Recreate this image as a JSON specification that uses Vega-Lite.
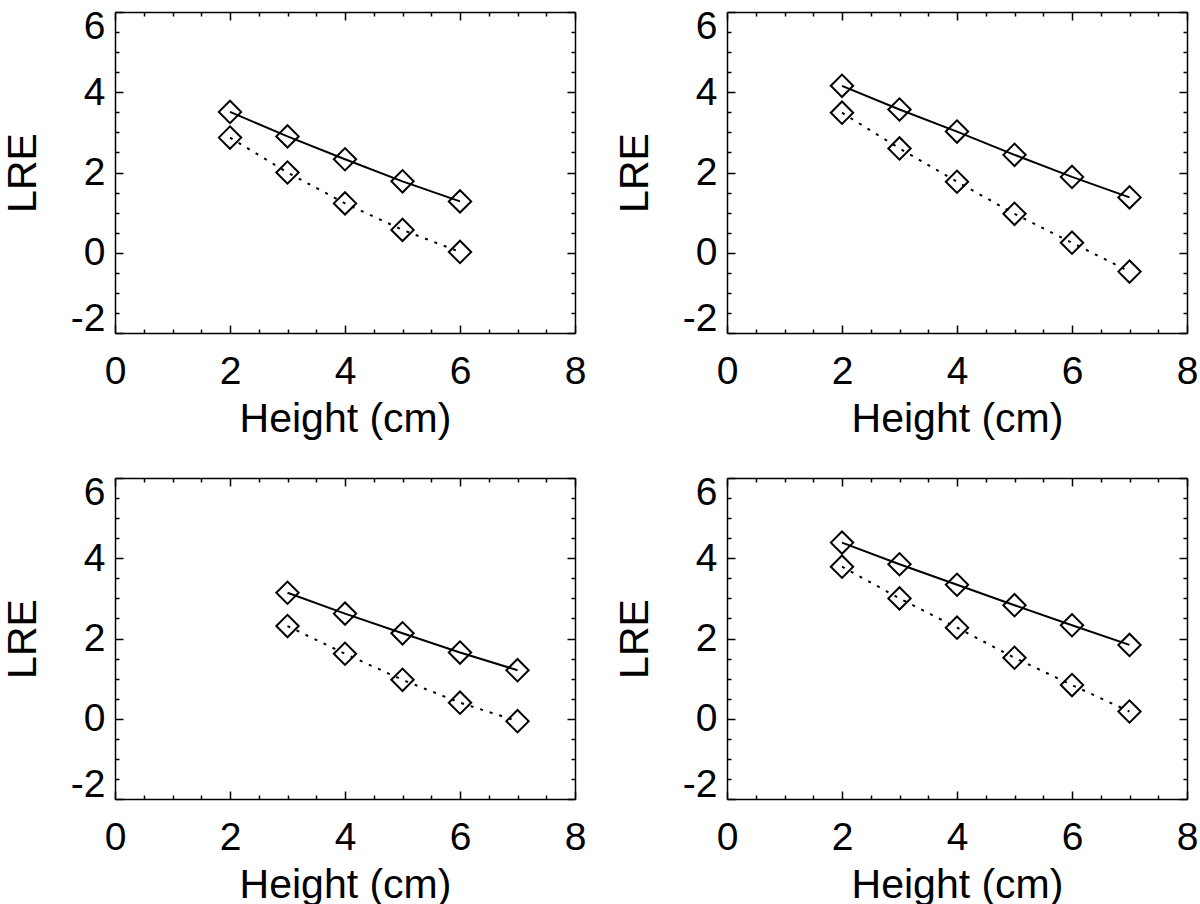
{
  "$schema": "https://vega.github.io/schema/vega-lite/v6.json",
  "padding": {"left": 2, "top": 7, "right": 0, "bottom": 0},
  "background": "white",
  "datasets": {
    "p1": [
      {"h": 2, "lre": 3.51, "s": "solid"}, {"h": 3, "lre": 2.90, "s": "solid"}, {"h": 4, "lre": 2.33, "s": "solid"}, {"h": 5, "lre": 1.78, "s": "solid"}, {"h": 6, "lre": 1.28, "s": "solid"},
      {"h": 2, "lre": 2.87, "s": "dotted"}, {"h": 3, "lre": 2.00, "s": "dotted"}, {"h": 4, "lre": 1.23, "s": "dotted"}, {"h": 5, "lre": 0.57, "s": "dotted"}, {"h": 6, "lre": 0.02, "s": "dotted"}
    ],
    "p2": [
      {"h": 2, "lre": 4.16, "s": "solid"}, {"h": 3, "lre": 3.57, "s": "solid"}, {"h": 4, "lre": 3.02, "s": "solid"}, {"h": 5, "lre": 2.44, "s": "solid"}, {"h": 6, "lre": 1.89, "s": "solid"}, {"h": 7, "lre": 1.38, "s": "solid"},
      {"h": 2, "lre": 3.49, "s": "dotted"}, {"h": 3, "lre": 2.60, "s": "dotted"}, {"h": 4, "lre": 1.77, "s": "dotted"}, {"h": 5, "lre": 0.97, "s": "dotted"}, {"h": 6, "lre": 0.25, "s": "dotted"}, {"h": 7, "lre": -0.47, "s": "dotted"}
    ],
    "p3": [
      {"h": 3, "lre": 3.14, "s": "solid"}, {"h": 4, "lre": 2.62, "s": "solid"}, {"h": 5, "lre": 2.13, "s": "solid"}, {"h": 6, "lre": 1.65, "s": "solid"}, {"h": 7, "lre": 1.21, "s": "solid"},
      {"h": 3, "lre": 2.31, "s": "dotted"}, {"h": 4, "lre": 1.62, "s": "dotted"}, {"h": 5, "lre": 0.97, "s": "dotted"}, {"h": 6, "lre": 0.40, "s": "dotted"}, {"h": 7, "lre": -0.06, "s": "dotted"}
    ],
    "p4": [
      {"h": 2, "lre": 4.39, "s": "solid"}, {"h": 3, "lre": 3.85, "s": "solid"}, {"h": 4, "lre": 3.34, "s": "solid"}, {"h": 5, "lre": 2.83, "s": "solid"}, {"h": 6, "lre": 2.33, "s": "solid"}, {"h": 7, "lre": 1.84, "s": "solid"},
      {"h": 2, "lre": 3.79, "s": "dotted"}, {"h": 3, "lre": 3.00, "s": "dotted"}, {"h": 4, "lre": 2.27, "s": "dotted"}, {"h": 5, "lre": 1.52, "s": "dotted"}, {"h": 6, "lre": 0.84, "s": "dotted"}, {"h": 7, "lre": 0.18, "s": "dotted"}
    ]
  },
  "columns": 2,
  "spacing": {"row": 34, "column": 28},
  "concat": [
    {
      "width": 460, "height": 321,
      "data": {"name": "p1"},
      "layer": [
        {"transform": [{"filter": "datum.s === 'solid'"}], "mark": {"type": "line", "color": "black", "strokeWidth": 2},
         "encoding": {
          "x": {"field": "h", "type": "quantitative", "scale": {"domain": [0, 8], "nice": false, "zero": false}, "axis": {"orient": "bottom", "values": [0,0.5,1,1.5,2,2.5,3,3.5,4,4.5,5,5.5,6,6.5,7,7.5,8], "labelExpr": "datum.value % 2 === 0 ? '' + datum.value : ''", "tickSize": {"condition": {"test": "datum.value % 2 === 0", "value": -8}, "value": -4}, "labelPadding": 27, "labelFlush": false, "title": "Height (cm)", "titlePadding": 4}},
          "y": {"field": "lre", "type": "quantitative", "scale": {"domain": [-2, 6], "nice": false, "zero": false}, "axis": {"orient": "left", "values": [-2,-1.5,-1,-0.5,0,0.5,1,1.5,2,2.5,3,3.5,4,4.5,5,5.5,6], "labelExpr": "datum.value % 2 === 0 ? '' + datum.value : ''", "tickSize": {"condition": {"test": "datum.value % 2 === 0", "value": -8}, "value": -4}, "labelPadding": 18, "labelFlush": true, "labelFlushOffset": 5, "title": "LRE", "titlePadding": 26}}
         }},
        {"transform": [{"filter": "datum.s === 'dotted'"}], "mark": {"type": "line", "color": "black", "strokeWidth": 2, "strokeDash": [3, 7]},
         "encoding": {
          "x": {"field": "h", "type": "quantitative", "scale": {"domain": [0, 8], "nice": false, "zero": false}, "axis": {"orient": "top", "values": [0,0.5,1,1.5,2,2.5,3,3.5,4,4.5,5,5.5,6,6.5,7,7.5,8], "labels": false, "tickSize": {"condition": {"test": "datum.value % 2 === 0", "value": -8}, "value": -4}, "title": null}},
          "y": {"field": "lre", "type": "quantitative", "scale": {"domain": [-2, 6], "nice": false, "zero": false}, "axis": {"orient": "right", "values": [-2,-1.5,-1,-0.5,0,0.5,1,1.5,2,2.5,3,3.5,4,4.5,5,5.5,6], "labels": false, "tickSize": {"condition": {"test": "datum.value % 2 === 0", "value": -8}, "value": -4}, "title": null}}
         }},
        {"mark": {"type": "point", "shape": "diamond", "size": 500, "strokeWidth": 2, "color": "black", "filled": false, "opacity": 1},
         "encoding": {
          "x": {"field": "h", "type": "quantitative", "axis": null},
          "y": {"field": "lre", "type": "quantitative", "axis": null}
         }}
      ],
      "resolve": {"axis": {"x": "independent", "y": "independent"}}
    },
    {
      "width": 460, "height": 321,
      "data": {"name": "p2"},
      "layer": [
        {"transform": [{"filter": "datum.s === 'solid'"}], "mark": {"type": "line", "color": "black", "strokeWidth": 2},
         "encoding": {
          "x": {"field": "h", "type": "quantitative", "scale": {"domain": [0, 8], "nice": false, "zero": false}, "axis": {"orient": "bottom", "values": [0,0.5,1,1.5,2,2.5,3,3.5,4,4.5,5,5.5,6,6.5,7,7.5,8], "labelExpr": "datum.value % 2 === 0 ? '' + datum.value : ''", "tickSize": {"condition": {"test": "datum.value % 2 === 0", "value": -8}, "value": -4}, "labelPadding": 27, "labelFlush": false, "title": "Height (cm)", "titlePadding": 4}},
          "y": {"field": "lre", "type": "quantitative", "scale": {"domain": [-2, 6], "nice": false, "zero": false}, "axis": {"orient": "left", "values": [-2,-1.5,-1,-0.5,0,0.5,1,1.5,2,2.5,3,3.5,4,4.5,5,5.5,6], "labelExpr": "datum.value % 2 === 0 ? '' + datum.value : ''", "tickSize": {"condition": {"test": "datum.value % 2 === 0", "value": -8}, "value": -4}, "labelPadding": 18, "labelFlush": true, "labelFlushOffset": 5, "title": "LRE", "titlePadding": 26}}
         }},
        {"transform": [{"filter": "datum.s === 'dotted'"}], "mark": {"type": "line", "color": "black", "strokeWidth": 2, "strokeDash": [3, 7]},
         "encoding": {
          "x": {"field": "h", "type": "quantitative", "scale": {"domain": [0, 8], "nice": false, "zero": false}, "axis": {"orient": "top", "values": [0,0.5,1,1.5,2,2.5,3,3.5,4,4.5,5,5.5,6,6.5,7,7.5,8], "labels": false, "tickSize": {"condition": {"test": "datum.value % 2 === 0", "value": -8}, "value": -4}, "title": null}},
          "y": {"field": "lre", "type": "quantitative", "scale": {"domain": [-2, 6], "nice": false, "zero": false}, "axis": {"orient": "right", "values": [-2,-1.5,-1,-0.5,0,0.5,1,1.5,2,2.5,3,3.5,4,4.5,5,5.5,6], "labels": false, "tickSize": {"condition": {"test": "datum.value % 2 === 0", "value": -8}, "value": -4}, "title": null}}
         }},
        {"mark": {"type": "point", "shape": "diamond", "size": 500, "strokeWidth": 2, "color": "black", "filled": false, "opacity": 1},
         "encoding": {
          "x": {"field": "h", "type": "quantitative", "axis": null},
          "y": {"field": "lre", "type": "quantitative", "axis": null}
         }}
      ],
      "resolve": {"axis": {"x": "independent", "y": "independent"}}
    },
    {
      "width": 460, "height": 321,
      "data": {"name": "p3"},
      "layer": [
        {"transform": [{"filter": "datum.s === 'solid'"}], "mark": {"type": "line", "color": "black", "strokeWidth": 2},
         "encoding": {
          "x": {"field": "h", "type": "quantitative", "scale": {"domain": [0, 8], "nice": false, "zero": false}, "axis": {"orient": "bottom", "values": [0,0.5,1,1.5,2,2.5,3,3.5,4,4.5,5,5.5,6,6.5,7,7.5,8], "labelExpr": "datum.value % 2 === 0 ? '' + datum.value : ''", "tickSize": {"condition": {"test": "datum.value % 2 === 0", "value": -8}, "value": -4}, "labelPadding": 27, "labelFlush": false, "title": "Height (cm)", "titlePadding": 4}},
          "y": {"field": "lre", "type": "quantitative", "scale": {"domain": [-2, 6], "nice": false, "zero": false}, "axis": {"orient": "left", "values": [-2,-1.5,-1,-0.5,0,0.5,1,1.5,2,2.5,3,3.5,4,4.5,5,5.5,6], "labelExpr": "datum.value % 2 === 0 ? '' + datum.value : ''", "tickSize": {"condition": {"test": "datum.value % 2 === 0", "value": -8}, "value": -4}, "labelPadding": 18, "labelFlush": true, "labelFlushOffset": 5, "title": "LRE", "titlePadding": 26}}
         }},
        {"transform": [{"filter": "datum.s === 'dotted'"}], "mark": {"type": "line", "color": "black", "strokeWidth": 2, "strokeDash": [3, 7]},
         "encoding": {
          "x": {"field": "h", "type": "quantitative", "scale": {"domain": [0, 8], "nice": false, "zero": false}, "axis": {"orient": "top", "values": [0,0.5,1,1.5,2,2.5,3,3.5,4,4.5,5,5.5,6,6.5,7,7.5,8], "labels": false, "tickSize": {"condition": {"test": "datum.value % 2 === 0", "value": -8}, "value": -4}, "title": null}},
          "y": {"field": "lre", "type": "quantitative", "scale": {"domain": [-2, 6], "nice": false, "zero": false}, "axis": {"orient": "right", "values": [-2,-1.5,-1,-0.5,0,0.5,1,1.5,2,2.5,3,3.5,4,4.5,5,5.5,6], "labels": false, "tickSize": {"condition": {"test": "datum.value % 2 === 0", "value": -8}, "value": -4}, "title": null}}
         }},
        {"mark": {"type": "point", "shape": "diamond", "size": 500, "strokeWidth": 2, "color": "black", "filled": false, "opacity": 1},
         "encoding": {
          "x": {"field": "h", "type": "quantitative", "axis": null},
          "y": {"field": "lre", "type": "quantitative", "axis": null}
         }}
      ],
      "resolve": {"axis": {"x": "independent", "y": "independent"}}
    },
    {
      "width": 460, "height": 321,
      "data": {"name": "p4"},
      "layer": [
        {"transform": [{"filter": "datum.s === 'solid'"}], "mark": {"type": "line", "color": "black", "strokeWidth": 2},
         "encoding": {
          "x": {"field": "h", "type": "quantitative", "scale": {"domain": [0, 8], "nice": false, "zero": false}, "axis": {"orient": "bottom", "values": [0,0.5,1,1.5,2,2.5,3,3.5,4,4.5,5,5.5,6,6.5,7,7.5,8], "labelExpr": "datum.value % 2 === 0 ? '' + datum.value : ''", "tickSize": {"condition": {"test": "datum.value % 2 === 0", "value": -8}, "value": -4}, "labelPadding": 27, "labelFlush": false, "title": "Height (cm)", "titlePadding": 4}},
          "y": {"field": "lre", "type": "quantitative", "scale": {"domain": [-2, 6], "nice": false, "zero": false}, "axis": {"orient": "left", "values": [-2,-1.5,-1,-0.5,0,0.5,1,1.5,2,2.5,3,3.5,4,4.5,5,5.5,6], "labelExpr": "datum.value % 2 === 0 ? '' + datum.value : ''", "tickSize": {"condition": {"test": "datum.value % 2 === 0", "value": -8}, "value": -4}, "labelPadding": 18, "labelFlush": true, "labelFlushOffset": 5, "title": "LRE", "titlePadding": 26}}
         }},
        {"transform": [{"filter": "datum.s === 'dotted'"}], "mark": {"type": "line", "color": "black", "strokeWidth": 2, "strokeDash": [3, 7]},
         "encoding": {
          "x": {"field": "h", "type": "quantitative", "scale": {"domain": [0, 8], "nice": false, "zero": false}, "axis": {"orient": "top", "values": [0,0.5,1,1.5,2,2.5,3,3.5,4,4.5,5,5.5,6,6.5,7,7.5,8], "labels": false, "tickSize": {"condition": {"test": "datum.value % 2 === 0", "value": -8}, "value": -4}, "title": null}},
          "y": {"field": "lre", "type": "quantitative", "scale": {"domain": [-2, 6], "nice": false, "zero": false}, "axis": {"orient": "right", "values": [-2,-1.5,-1,-0.5,0,0.5,1,1.5,2,2.5,3,3.5,4,4.5,5,5.5,6], "labels": false, "tickSize": {"condition": {"test": "datum.value % 2 === 0", "value": -8}, "value": -4}, "title": null}}
         }},
        {"mark": {"type": "point", "shape": "diamond", "size": 500, "strokeWidth": 2, "color": "black", "filled": false, "opacity": 1},
         "encoding": {
          "x": {"field": "h", "type": "quantitative", "axis": null},
          "y": {"field": "lre", "type": "quantitative", "axis": null}
         }}
      ],
      "resolve": {"axis": {"x": "independent", "y": "independent"}}
    }
  ],
  "config": {
    "view": {"stroke": null},
    "axis": {
      "grid": false,
      "minExtent": 0,
      "domainColor": "black", "domainWidth": 1.5,
      "tickColor": "black", "tickWidth": 1.5,
      "labelFont": "Liberation Sans", "labelFontSize": 39, "labelColor": "black", "labelOverlap": false, "labelBound": false,
      "titleFont": "Liberation Sans", "titleFontSize": 41, "titleFontWeight": "normal", "titleColor": "black"
    }
  }
}
